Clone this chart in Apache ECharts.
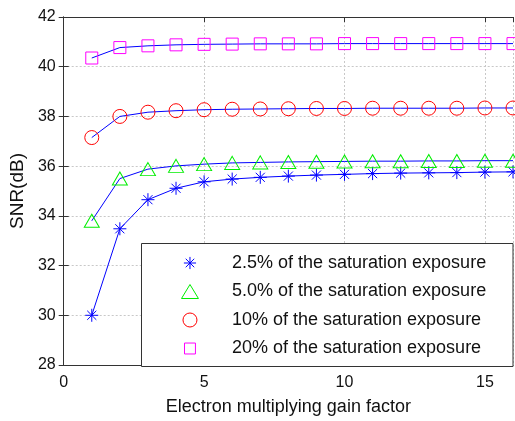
<!DOCTYPE html>
<html>
<head>
<meta charset="utf-8">
<script src="https://cdn.jsdelivr.net/npm/echarts@6/dist/echarts.min.js"></script>
<style>
  html, body { margin: 0; padding: 0; background: #fff; }
  #chart { width: 515px; height: 421px; }
</style>
</head>
<body>
<div id="chart"></div>
<script>
// gain factor on x axis
const gain = [1, 2, 3, 4, 5, 6, 7, 8, 9, 10, 11, 12, 13, 14, 15, 16]
// SNR (dB) for each exposure level
const snr25 = [30.0, 33.48, 34.65, 35.11, 35.37, 35.48, 35.55, 35.6, 35.64, 35.67, 35.7, 35.72, 35.73, 35.74, 35.76, 35.77]
const snr50 = [33.8, 35.5, 35.88, 36.01, 36.08, 36.13, 36.15, 36.17, 36.18, 36.19, 36.2, 36.2, 36.21, 36.21, 36.22, 36.22]
const snr10 = [37.15, 38.0, 38.17, 38.23, 38.27, 38.29, 38.3, 38.31, 38.32, 38.32, 38.33, 38.33, 38.33, 38.33, 38.34, 38.34]
const snr20 = [40.35, 40.77, 40.84, 40.88, 40.9, 40.91, 40.92, 40.92, 40.92, 40.93, 40.93, 40.93, 40.93, 40.93, 40.93, 40.93]
const names = [
  '2.5% of the saturation exposure',
  '5.0% of the saturation exposure',
  '10% of the saturation exposure',
  '20% of the saturation exposure'
]

const font = "'Liberation Sans', Arial, sans-serif"

// marker shapes (outline only, like matlab)
const starPath = 'path://M0,-10L0,10M-10,0L10,0M-7,-7L7,7M-7,7L7,-7'
const triPath = 'path://M0,-10L11.5,9L-11.5,9Z'
const sqPath = 'path://M0,0L10,0L10,10L0,10Z'
// legend versions with a bit of empty margin so they draw smaller
const starIcon = 'path://M-11.5,-11.5M11.5,11.5M0,-10L0,10M-10,0L10,0M-7,-7L7,7M-7,7L7,-7'
const sqIcon = 'path://M-1.4,-1.4M11.4,11.4M0,0L10,0L10,10L0,10Z'

const mk = (name, values, symbol, size, color) => ({
  name: name,
  type: 'line',
  data: gain.map((g, i) => [g, values[i]]),
  symbol: symbol,
  symbolSize: size,
  showAllSymbol: true,
  lineStyle: { color: '#0000ff', width: 1 },
  itemStyle: { color: 'rgba(0,0,0,0)', borderColor: color, borderWidth: 1 },
  emphasis: { disabled: true },
  z: 2
})

const legendItem = (name, icon, color) => ({
  name: name,
  icon: icon,
  itemStyle: { color: 'rgba(0,0,0,0)', borderColor: color, borderWidth: 1 }
})

const chart = echarts.init(document.getElementById('chart'))

const option = {
  animation: false,
  textStyle: { fontFamily: font },
  grid: { left: 62, right: 2, top: 17, bottom: 54 },
  xAxis: [
    {
      type: 'value',
      min: 0,
      max: 16,
      interval: 5,
      name: 'Electron multiplying gain factor',
      nameLocation: 'middle',
      nameGap: 33,
      nameTextStyle: { fontSize: 18, color: '#111', fontFamily: font },
      axisLine: { lineStyle: { color: '#333' } },
      axisTick: { inside: true, length: 5, lineStyle: { color: '#333' } },
      axisLabel: { fontSize: 16, color: '#111', margin: 10, showMaxLabel: false, fontFamily: font },
      splitLine: { show: true, lineStyle: { color: '#c8c8c8', type: [2, 2] } }
    },
    {
      type: 'value',
      position: 'top',
      min: 0,
      max: 16,
      interval: 5,
      axisLine: { show: true, lineStyle: { color: '#333' } },
      axisTick: { inside: true, length: 5, lineStyle: { color: '#333' } },
      axisLabel: { show: false },
      splitLine: { show: false }
    }
  ],
  yAxis: [
    {
      type: 'value',
      min: 28,
      max: 42,
      interval: 2,
      name: 'SNR(dB)',
      nameLocation: 'middle',
      nameGap: 32,
      nameTextStyle: { fontSize: 19, color: '#111', fontFamily: font },
      axisLine: { show: true, lineStyle: { color: '#333' } },
      axisTick: { show: true, inside: true, length: 5, lineStyle: { color: '#333' } },
      axisLabel: { fontSize: 16, color: '#111', margin: 8, fontFamily: font },
      splitLine: { show: true, lineStyle: { color: '#c8c8c8', type: [2, 2] } }
    },
    {
      type: 'value',
      position: 'right',
      min: 28,
      max: 42,
      interval: 2,
      axisLine: { show: true, lineStyle: { color: '#333' } },
      axisTick: { show: true, inside: true, length: 5, lineStyle: { color: '#333' } },
      axisLabel: { show: false },
      splitLine: { show: false }
    }
  ],
  // legend box
  graphic: [
    {
      type: 'rect',
      z: 3,
      shape: { x: 141.5, y: 243.5, width: 371.5, height: 123 },
      style: { fill: '#fff', stroke: '#333', lineWidth: 1 }
    }
  ],
  legend: {
    orient: 'vertical',
    left: 181,
    top: 254,
    padding: 0,
    itemWidth: 74,
    itemHeight: 14,
    itemGap: 10.5,
    symbolKeepAspect: true,
    selectedMode: false,
    z: 4,
    textStyle: { fontSize: 18, color: '#111', fontFamily: font },
    data: [
      legendItem(names[0], starIcon, '#0000ff'),
      legendItem(names[1], triPath, '#00ee00'),
      legendItem(names[2], 'circle', '#ff0000'),
      legendItem(names[3], sqIcon, '#ff00ff')
    ]
  },
  series: [
    mk(names[0], snr25, starPath, 13, '#0000ff'),
    mk(names[1], snr50, triPath, [15, 13], '#00ee00'),
    mk(names[2], snr10, 'circle', 14, '#ff0000'),
    mk(names[3], snr20, sqPath, 12, '#ff00ff')
  ]
}

chart.setOption(option)
window.addEventListener('resize', function () {
  chart.resize()
})
</script>
</body>
</html>
